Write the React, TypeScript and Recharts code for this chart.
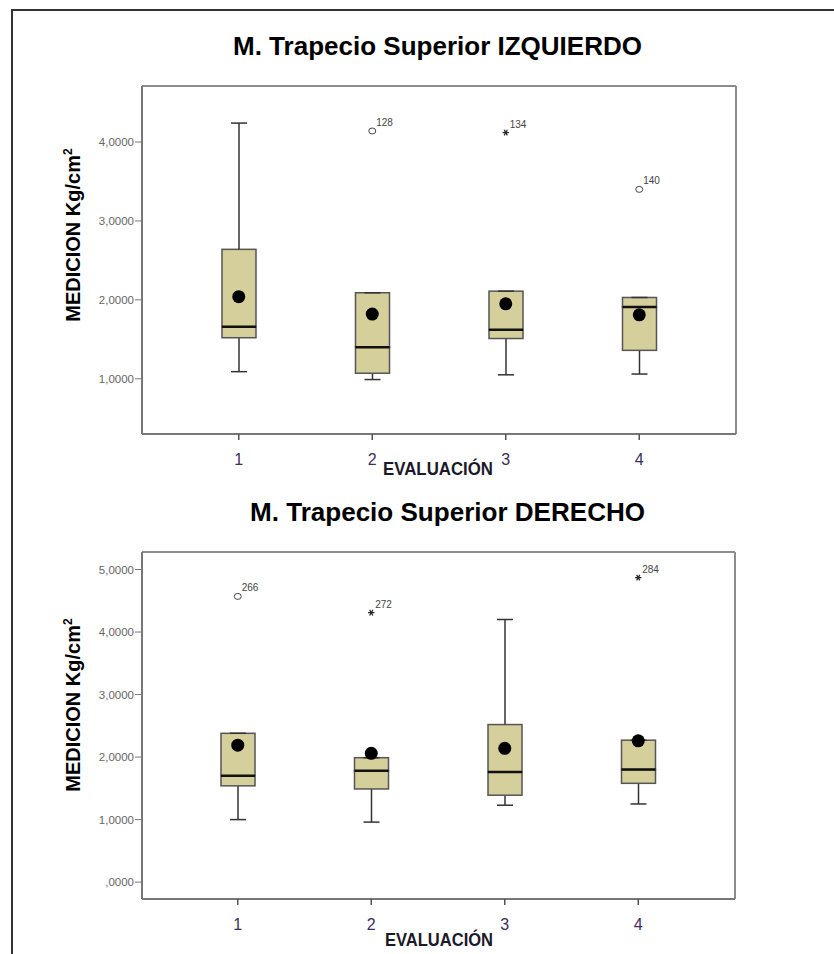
import { ComposedChart, Bar, Scatter, XAxis, YAxis, CartesianGrid } from 'recharts';

const categories = ['1', '2', '3', '4'];

// M. Trapecio Superior IZQUIERDO
const izqMin = [1.09, 0.99, 1.05, 1.06];
const izqQ1 = [1.52, 1.07, 1.51, 1.36];
const izqMedian = [1.66, 1.4, 1.62, 1.91];
const izqQ3 = [2.64, 2.09, 2.11, 2.03];
const izqMax = [4.24, 2.09, 2.11, 2.03];
const izqMean = [2.04, 1.82, 1.95, 1.81];
const izqOutlier = [null, 4.14, 4.12, 3.4];
const izqOutlierId = ['', '128', '134', '140'];
const izqOutlierKind = ['', 'circle', 'star', 'circle'];
const izqTicks = [1, 2, 3, 4];

// M. Trapecio Superior DERECHO
const derMin = [1.0, 0.96, 1.23, 1.25];
const derQ1 = [1.54, 1.49, 1.39, 1.58];
const derMedian = [1.7, 1.78, 1.76, 1.8];
const derQ3 = [2.38, 1.99, 2.52, 2.27];
const derMax = [2.38, 1.99, 4.2, 2.27];
const derMean = [2.19, 2.06, 2.14, 2.26];
const derOutlier = [4.57, 4.31, null, 4.87];
const derOutlierId = ['266', '272', '', '284'];
const derOutlierKind = ['circle', 'star', '', 'star'];
const derTicks = [0, 1, 2, 3, 4, 5];

const BOX_FILL = '#d4cf9b';
const FONT = '"Liberation Sans", Arial, sans-serif';

function buildRows(
  min: number[], q1: number[], med: number[], q3: number[], max: number[],
  mean: number[], out: (number | null)[], ids: string[], kinds: string[],
) {
  return categories.map((cat, i) => ({
    cat,
    base: min[i],
    lowWhisker: q1[i] - min[i],
    lowBox: med[i] - q1[i],
    highBox: q3[i] - med[i],
    highWhisker: max[i] - q3[i],
    mean: mean[i],
    outlier: out[i],
    outlierId: ids[i],
    outlierKind: kinds[i],
  }));
}

const izqRows = buildRows(izqMin, izqQ1, izqMedian, izqQ3, izqMax, izqMean, izqOutlier, izqOutlierId, izqOutlierKind);
const derRows = buildRows(derMin, derQ1, derMedian, derQ3, derMax, derMean, derOutlier, derOutlierId, derOutlierKind);

// SPSS style: 1,0000 and ,0000
function formatTick(v: number) {
  const s = v.toFixed(4).replace('.', ',');
  return s.startsWith('0,') ? s.slice(1) : s;
}

function LowWhisker(props: any) {
  const { x, y, width, height } = props;
  const cx = x + width / 2;
  return (
    <g>
      <line x1={cx} x2={cx} y1={y} y2={y + height} stroke="#333" strokeWidth={1.5} />
      <line x1={cx - 8} x2={cx + 8} y1={y + height} y2={y + height} stroke="#333" strokeWidth={1.5} />
    </g>
  );
}

function HighWhisker(props: any) {
  const { x, y, width, height } = props;
  const cx = x + width / 2;
  return (
    <g>
      <line x1={cx} x2={cx} y1={y} y2={y + height} stroke="#333" strokeWidth={1.5} />
      <line x1={cx - 8} x2={cx + 8} y1={y} y2={y} stroke="#333" strokeWidth={1.5} />
    </g>
  );
}

function BoxPart(props: any) {
  const { x, y, width, height } = props;
  return <rect x={x} y={y} width={width} height={height} fill={BOX_FILL} stroke="#555" strokeWidth={1.5} />;
}

// upper half of the box, median drawn along its bottom edge
function UpperBox(props: any) {
  const { x, y, width, height } = props;
  return (
    <g>
      <rect x={x} y={y} width={width} height={height} fill={BOX_FILL} stroke="#555" strokeWidth={1.5} />
      <line x1={x} x2={x + width} y1={y + height} y2={y + height} stroke="#111" strokeWidth={2.5} />
    </g>
  );
}

function MeanDot(props: any) {
  return <circle cx={props.cx} cy={props.cy} r={6.5} fill="#000" />;
}

function OutlierMark(props: any) {
  const { cx, cy, payload } = props;
  if (payload.outlier == null || !Number.isFinite(cy)) return <g />;
  const label = (
    <text x={cx + 4} y={cy - 5} fontSize={10} fill="#444" stroke="none" fontFamily={FONT}>
      {payload.outlierId}
    </text>
  );
  if (payload.outlierKind === 'star') {
    const r = 3.2;
    return (
      <g>
        <g stroke="#222" strokeWidth={1.2}>
          <line x1={cx - r} x2={cx + r} y1={cy} y2={cy} />
          <line x1={cx - r * 0.5} x2={cx + r * 0.5} y1={cy - r * 0.87} y2={cy + r * 0.87} />
          <line x1={cx - r * 0.5} x2={cx + r * 0.5} y1={cy + r * 0.87} y2={cy - r * 0.87} />
        </g>
        {label}
      </g>
    );
  }
  return (
    <g>
      <ellipse cx={cx} cy={cy} rx={3.5} ry={3} fill="none" stroke="#444" strokeWidth={1} />
      {label}
    </g>
  );
}

interface BoxChartProps {
  rows: ReturnType<typeof buildRows>;
  domain: [number, number];
  ticks: number[];
  height: number;
  margin: { top: number; right: number; bottom: number; left: number };
  padding: { left: number; right: number };
}

function BoxChart({ rows, domain, ticks, height, margin, padding }: BoxChartProps) {
  return (
    <ComposedChart width={834} height={height} data={rows} margin={margin} barCategoryGap={0}>
      <CartesianGrid
        stroke="#8c8c8c"
        strokeWidth={2}
        horizontalCoordinatesGenerator={({ offset }: any) => [offset.top, offset.top + offset.height]}
        verticalCoordinatesGenerator={({ offset }: any) => [offset.left, offset.left + offset.width]}
      />
      <XAxis
        dataKey="cat"
        padding={padding}
        height={40}
        tickSize={6}
        tickMargin={14}
        axisLine={{ stroke: '#777', strokeWidth: 2 }}
        tickLine={{ stroke: '#555', strokeWidth: 1.5 }}
        tick={{ fill: '#3b2d5c', fontSize: 16, fontFamily: FONT }}
      />
      <YAxis
        type="number"
        domain={domain}
        allowDataOverflow
        ticks={ticks}
        tickFormatter={formatTick}
        width={60}
        tickSize={7}
        tickMargin={1}
        axisLine={{ stroke: '#777', strokeWidth: 2 }}
        tickLine={{ stroke: '#777', strokeWidth: 1 }}
        tick={{ fill: '#666', fontSize: 11.5, fontFamily: FONT }}
      />
      <Bar dataKey="base" stackId="box" barSize={34} fill="transparent" isAnimationActive={false} />
      <Bar dataKey="lowWhisker" stackId="box" barSize={34} shape={LowWhisker} isAnimationActive={false} />
      <Bar dataKey="lowBox" stackId="box" barSize={34} shape={BoxPart} isAnimationActive={false} />
      <Bar dataKey="highBox" stackId="box" barSize={34} shape={UpperBox} isAnimationActive={false} />
      <Bar dataKey="highWhisker" stackId="box" barSize={34} shape={HighWhisker} isAnimationActive={false} />
      <Scatter dataKey="mean" shape={MeanDot} isAnimationActive={false} />
      <Scatter dataKey="outlier" shape={OutlierMark} isAnimationActive={false} />
    </ComposedChart>
  );
}

function YTitle({ cy }: { cy: number }) {
  return (
    <text
      transform={`translate(80, ${cy}) rotate(-90)`}
      textAnchor="middle"
      fontSize={20}
      fontWeight="bold"
      fontFamily={FONT}
      fill="#000"
    >
      MEDICION Kg/cm<tspan fontSize={12} dy={-8}>2</tspan>
    </text>
  );
}

export default function App() {
  return (
    <div style={{ position: 'absolute', left: 0, top: 0, width: 834, height: 954, background: '#fff', overflow: 'hidden' }}>
      <div
        style={{
          position: 'absolute', left: 11, top: 9, width: 840, height: 960,
          border: '2px solid #333', boxSizing: 'border-box',
        }}
      />
      <div style={{ position: 'absolute', left: 0, top: 0 }}>
        <BoxChart
          rows={izqRows}
          domain={[0.3, 4.71]}
          ticks={izqTicks}
          height={480}
          margin={{ top: 86, right: 98, bottom: 6, left: 82 }}
          padding={{ left: 30, right: 30 }}
        />
      </div>
      <div style={{ position: 'absolute', left: 0, top: 480 }}>
        <BoxChart
          rows={derRows}
          domain={[-0.27, 5.28]}
          ticks={derTicks}
          height={474}
          margin={{ top: 72, right: 99, bottom: 15, left: 82 }}
          padding={{ left: 29, right: 30 }}
        />
      </div>
      <svg width={834} height={954} style={{ position: 'absolute', left: 0, top: 0, pointerEvents: 'none' }}>
        <text x={437.5} y={55} textAnchor="middle" fontSize={26} fontWeight="bold" fontFamily={FONT}
          textLength={409} lengthAdjust="spacingAndGlyphs">
          M. Trapecio Superior IZQUIERDO
        </text>
        <text x={447.5} y={521} textAnchor="middle" fontSize={26} fontWeight="bold" fontFamily={FONT}
          textLength={395} lengthAdjust="spacingAndGlyphs">
          M. Trapecio Superior DERECHO
        </text>
        <YTitle cy={235} />
        <YTitle cy={705} />
        <text x={438} y={475} textAnchor="middle" fontSize={18} fontWeight="bold" fontFamily={FONT} fill="#1a1a2a"
          textLength={110} lengthAdjust="spacingAndGlyphs">
          EVALUACIÓN
        </text>
        <text x={439} y={946} textAnchor="middle" fontSize={18} fontWeight="bold" fontFamily={FONT} fill="#1a1a2a"
          textLength={108} lengthAdjust="spacingAndGlyphs">
          EVALUACIÓN
        </text>
      </svg>
    </div>
  );
}
